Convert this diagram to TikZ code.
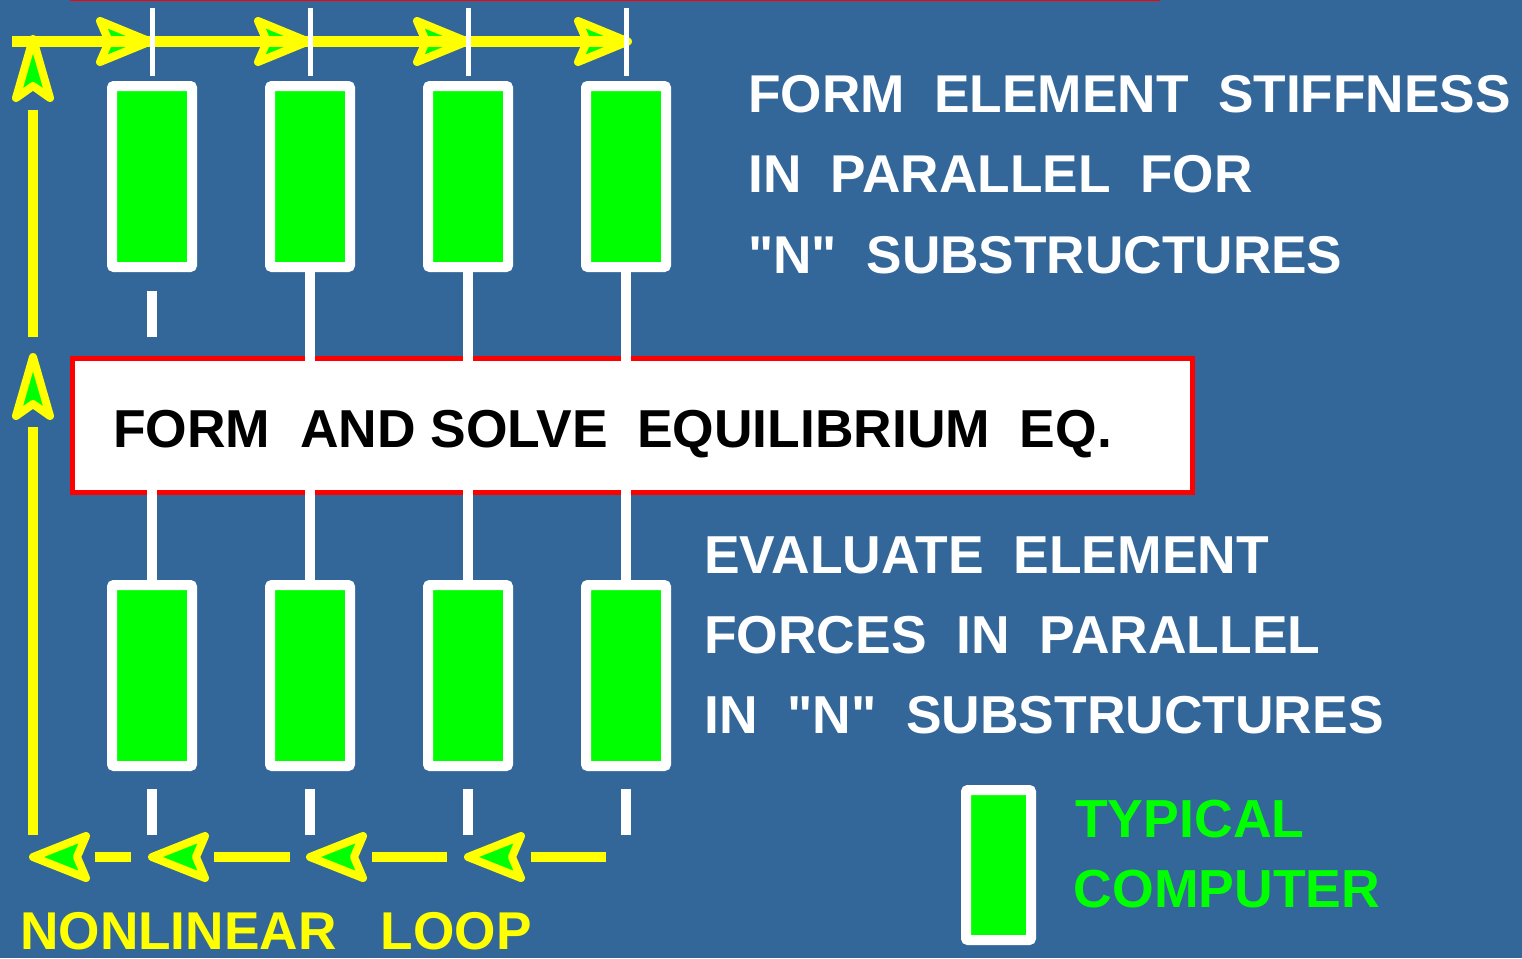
\documentclass[tikz,border=0pt]{standalone}
\usepackage{fontspec}
\setmainfont{Liberation Sans}[Ligatures=TeXOff]
\usetikzlibrary{calc}
\definecolor{bg}{HTML}{336699}
\definecolor{cgreen}{HTML}{00FF00}
\definecolor{cyellow}{HTML}{FFFF00}
\definecolor{cred}{HTML}{FF0000}
\tikzset{
  comp/.style={draw=white, line width=10pt, fill=cgreen, rounded corners=2pt,
    minimum width=80pt, minimum height=181pt, inner sep=0pt, outer sep=0pt},
  eqbox/.style={draw=cred, line width=5pt, fill=white, minimum width=1120pt,
    minimum height=134pt, inner sep=0pt, outer sep=0pt},
  link/.style={draw=white, line width=10pt},
  tickmark/.style={draw=white, line width=10pt},
  thintick/.style={draw=white, line width=5pt},
  loopline/.style={draw=cyellow, line width=10pt},
  headstyle/.style={draw=cyellow, fill=cgreen, line width=8pt, line join=round},
  pics/headright/.style={code={\filldraw[headstyle] (0,0) -- (-50,-20.5) -- (-41,0) -- (-50,20.5) -- cycle;}},
  pics/headleft/.style={code={\filldraw[headstyle] (0,0) -- (53,-21) -- (44,0) -- (53,21) -- cycle;}},
  pics/headup/.style={code={\filldraw[headstyle] (0,0) -- (-17,59) -- (0,47) -- (17,59) -- cycle;}},
  whitetext/.style={text=white, font=\bfseries\fontsize{53.2}{60}\selectfont, anchor=base west, inner sep=0pt},
  evaltext/.style={text=white, font=\bfseries\fontsize{53.4}{60}\selectfont, anchor=base west, inner sep=0pt},
  blacktext/.style={text=black, font=\bfseries\fontsize{53.4}{60}\selectfont, anchor=base west, inner sep=0pt},
  yellowtext/.style={text=cyellow, font=\bfseries\fontsize{53.2}{60}\selectfont, anchor=base west, inner sep=0pt},
  greentext/.style={text=cgreen, font=\bfseries\fontsize{53.6}{60}\selectfont, anchor=base west, inner sep=0pt},
}
\begin{document}
\begin{tikzpicture}[x=1pt,y=-1pt]
\fill[bg] (0,0) rectangle (1522,958);
\useasboundingbox (0,0) rectangle (1522,958);
% red edge at the top
\fill[cred] (70,-3) rectangle (1160,1.5);

% central box
\node[eqbox] (eq) at (632.5,425.5) {};
\node[blacktext] (eqlabel) at (113,447.5) {FORM\ \ AND SOLVE\ \ EQUILIBRIUM\ \ EQ.};

% computers
\foreach \i/\x in {1/152,2/310,3/468,4/626}{
  \node[comp] (u\i) at (\x,176.5) {};
  \node[comp] (l\i) at (\x,675.5) {};
}
\node[comp, minimum width=65pt, minimum height=150pt] (legend) at (998.5,865) {};

% connectors to the equation box
\foreach \i in {2,3,4}
  \draw[link] (u\i.south) -- ($(u\i.south |- eq.north)+(0,5)$);
\foreach \i in {1,...,4}
  \draw[link] ($(l\i.north |- eq.south)+(0,-5)$) -- (l\i.north);
\draw[tickmark] ($(u1.south)+(0,24)$) -- ($(u1.south)+(0,70)$);
\foreach \i in {1,...,4}
  \draw[tickmark] ($(l\i.south)+(0,23)$) -- ($(l\i.south)+(0,69)$);

% nonlinear loop: top row
\coordinate (loopTL) at (12,41.5);
\coordinate (loopTR) at (624,41.5);
\foreach \x in {150,308,467,628}
  \pic at (\x,41.5) {headright};
\draw[loopline, line width=11pt] (loopTL) -- (loopTR);
\foreach \i in {1,...,4}
  \draw[thintick] ($(u\i.north)+(0,-10)$) -- ($(u\i.north)+(0,-78)$);

% left column
\coordinate (loopL1) at (33,110);
\coordinate (loopL2) at (33,337);
\coordinate (loopL3) at (33,427);
\coordinate (loopBL) at (33,835);
\draw[loopline] (loopL1) -- (loopL2);
\draw[loopline] (loopL3) -- (loopBL);
\pic at (33,39) {headup};
\pic at (33,357) {headup};

% bottom row
\foreach \a/\b in {606/531,447/372,290/214,131/95}
  \draw[loopline] (\a,857) -- (\b,857);
\foreach \x in {33,152,310,468}
  \pic at (\x,857) {headleft};

% texts
\node[whitetext] (s1) at (748,112) {FORM\ \ ELEMENT\ \ STIFFNESS};
\node[whitetext] (s2) at (748,192.5) {IN\ \ PARALLEL\ \ FOR};
\node[whitetext] (s3) at (748,273) {"N"\ \ SUBSTRUCTURES};
\node[evaltext] (e1) at (704,573) {EVALUATE\ \ ELEMENT};
\node[evaltext] (e2) at (704,653) {FORCES\ \ IN\ \ PARALLEL};
\node[evaltext] (e3) at (704,733) {IN\ \ "N"\ \ SUBSTRUCTURES};
\node[yellowtext] (nl) at (20,949.5) {NONLINEAR\ \ \ LOOP};
\node[greentext] (g1) at (1075,837) {TYPICAL};
\node[greentext] (g2) at (1073.5,907) {COMPUTER};
\end{tikzpicture}
\end{document}
